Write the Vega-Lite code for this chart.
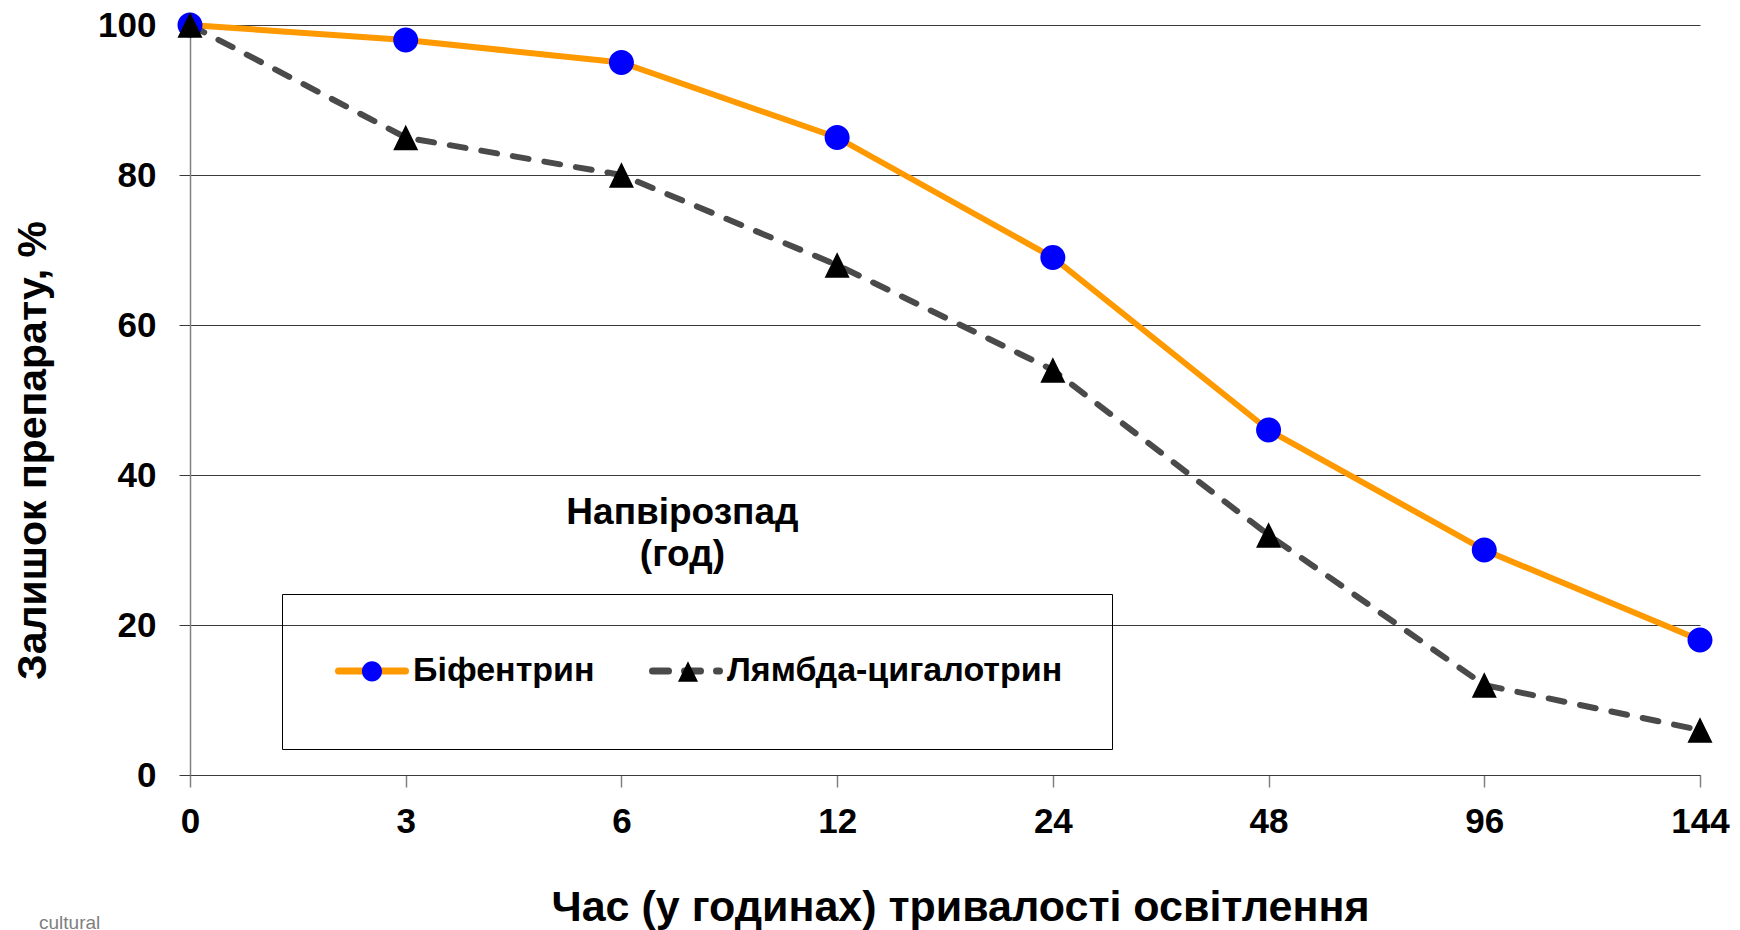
{
  "$schema": "https://vega.github.io/schema/vega-lite/v6.json",
  "width": 1510,
  "height": 750,
  "autosize": {"type": "none"},
  "padding": {"left": 190, "top": 25, "right": 40, "bottom": 155},
  "background": "white",
  "config": {"view": {"stroke": null}, "font": "Liberation Sans"},
  "title": {"text": "cultural", "orient": "bottom", "anchor": "start", "frame": "group", "fontSize": 19, "fontWeight": "normal", "color": "#808080", "font": "Liberation Sans", "dx": -151, "offset": 0, "baseline": "alphabetic"},
  "data": {"values": [
    {"hours": 0, "value": 100, "series": "Біфентрин"},
    {"hours": 3, "value": 98, "series": "Біфентрин"},
    {"hours": 6, "value": 95, "series": "Біфентрин"},
    {"hours": 12, "value": 85, "series": "Біфентрин"},
    {"hours": 24, "value": 69, "series": "Біфентрин"},
    {"hours": 48, "value": 46, "series": "Біфентрин"},
    {"hours": 96, "value": 30, "series": "Біфентрин"},
    {"hours": 144, "value": 18, "series": "Біфентрин"},
    {"hours": 0, "value": 100, "series": "Лямбда-цигалотрин"},
    {"hours": 3, "value": 85, "series": "Лямбда-цигалотрин"},
    {"hours": 6, "value": 80, "series": "Лямбда-цигалотрин"},
    {"hours": 12, "value": 68, "series": "Лямбда-цигалотрин"},
    {"hours": 24, "value": 54, "series": "Лямбда-цигалотрин"},
    {"hours": 48, "value": 32, "series": "Лямбда-цигалотрин"},
    {"hours": 96, "value": 12, "series": "Лямбда-цигалотрин"},
    {"hours": 144, "value": 6, "series": "Лямбда-цигалотрин"}
  ]},
  "layer": [
    {
      "mark": {"type": "line", "strokeWidth": 6, "strokeCap": "round", "strokeJoin": "round"},
      "encoding": {
        "x": {"field": "hours", "type": "ordinal", "scale": {"type": "point", "padding": 0},
          "axis": {"title": "Час (у годинах) тривалості освітлення", "titleFontSize": 43, "titleFontWeight": "bold", "titleColor": "#000000", "titlePadding": 47, "titleX": 770,
            "labelAngle": 0, "labelFontSize": 35, "labelFontWeight": "bold", "labelColor": "#000000", "labelPadding": 17,
            "tickSize": 12, "tickColor": "#808080", "tickWidth": 1.5, "domainColor": "#3a3a3a", "domainWidth": 1, "grid": false}},
        "y": {"field": "value", "type": "quantitative", "scale": {"domain": [0, 100], "nice": false},
          "axis": {"values": [0, 20, 40, 60, 80, 100], "title": "Залишок препарату, %", "titleFontSize": 41, "titleFontWeight": "bold", "titleColor": "#000000",
            "titleX": -157, "titleY": 425, "titleAngle": -90, "titleAlign": "center", "titleBaseline": "middle",
            "labelFontSize": 35, "labelFontWeight": "bold", "labelColor": "#000000", "labelPadding": 23,
            "tickSize": 11, "tickColor": "#3a3a3a", "tickWidth": 1, "grid": true, "gridColor": "#3a3a3a", "gridWidth": 1,
            "domainColor": "#808080", "domainWidth": 1.5}},
        "color": {"field": "series", "type": "nominal",
          "scale": {"domain": ["Біфентрин", "Лямбда-цигалотрин"], "range": ["#ff9900", "#4a4a4a"]},
          "legend": {"orient": "none", "legendX": 145, "legendY": 609, "direction": "horizontal", "title": null,
            "symbolType": "stroke", "symbolSize": 4489, "symbolStrokeWidth": 7,
            "labelFont": "Liberation Sans", "labelFontSize": 34, "labelFontWeight": "bold", "labelColor": "#000000", "labelOffset": 4, "labelLimit": 1000,
            "columnPadding": 43, "padding": 0,
            "encode": {"symbols": {"update": {"strokeCap": {"value": "round"}}}}}},
        "strokeDash": {"field": "series", "type": "nominal",
          "scale": {"domain": ["Біфентрин", "Лямбда-цигалотрин"], "range": [[5000, 1], [16, 16]]},
          "legend": {"orient": "none", "legendX": 145, "legendY": 609, "direction": "horizontal", "title": null,
            "symbolType": "stroke", "symbolSize": 4489, "symbolStrokeWidth": 7,
            "labelFont": "Liberation Sans", "labelFontSize": 34, "labelFontWeight": "bold", "labelColor": "#000000", "labelOffset": 4, "labelLimit": 1000,
            "columnPadding": 43, "padding": 0,
            "encode": {"symbols": {"update": {"strokeCap": {"value": "round"}}}}}}
      }
    },
    {
      "mark": {"type": "point", "filled": true, "opacity": 1, "size": 2626},
      "encoding": {
        "x": {"field": "hours", "type": "ordinal"},
        "y": {"field": "value", "type": "quantitative"},
        "fill": {"field": "series", "type": "nominal",
          "scale": {"range": ["#0000ff", "#000000"]},
          "legend": {"orient": "none", "legendX": 92, "legendY": 569, "direction": "horizontal", "title": null,
            "symbolSize": 1681, "symbolStrokeWidth": 7, "symbolStrokeColor": "transparent", "symbolOffset": 13,
            "labelFont": "Liberation Sans", "labelFontSize": 34, "labelFontWeight": "bold", "labelOffset": 11, "labelOpacity": 0, "labelLimit": 1000,
            "columnPadding": 62, "padding": 53, "strokeColor": "#000000",
            "encode": {"symbols": {"update": {"stroke": {"value": "transparent"}, "strokeWidth": {"value": 7}, "opacity": {"value": 1}}}, "legend": {"update": {"strokeWidth": {"value": 1.3}}}}}},
        "shape": {"field": "series", "type": "nominal",
          "scale": {"range": ["M0.488,0A0.488,0.488 0 1 1 -0.488,0A0.488,0.488 0 1 1 0.488,0Z M0,0V0.5", "M0,-0.5L0.488,0.5L-0.488,0.5Z M0,0V0.5"]},
          "legend": {"orient": "none", "legendX": 92, "legendY": 569, "direction": "horizontal", "title": null,
            "symbolSize": 1681, "symbolStrokeWidth": 7, "symbolStrokeColor": "transparent", "symbolOffset": 13,
            "labelFont": "Liberation Sans", "labelFontSize": 34, "labelFontWeight": "bold", "labelOffset": 11, "labelOpacity": 0, "labelLimit": 1000,
            "columnPadding": 62, "padding": 53, "strokeColor": "#000000",
            "encode": {"symbols": {"update": {"stroke": {"value": "transparent"}, "strokeWidth": {"value": 7}, "opacity": {"value": 1}}}, "legend": {"update": {"strokeWidth": {"value": 1.3}}}}}}
      }
    },
    {
      "data": {"values": [{"note": "Напвірозпад (год)"}]},
      "mark": {"type": "text", "text": ["Напвірозпад", "(год)"], "fontSize": 37, "fontWeight": "bold", "font": "Liberation Sans", "lineHeight": 42, "dx": 61, "align": "center", "baseline": "middle", "color": "#000000"},
      "encoding": {
        "x": {"datum": 6, "type": "ordinal"},
        "y": {"datum": 35, "type": "quantitative"}
      }
    }
  ]
}
